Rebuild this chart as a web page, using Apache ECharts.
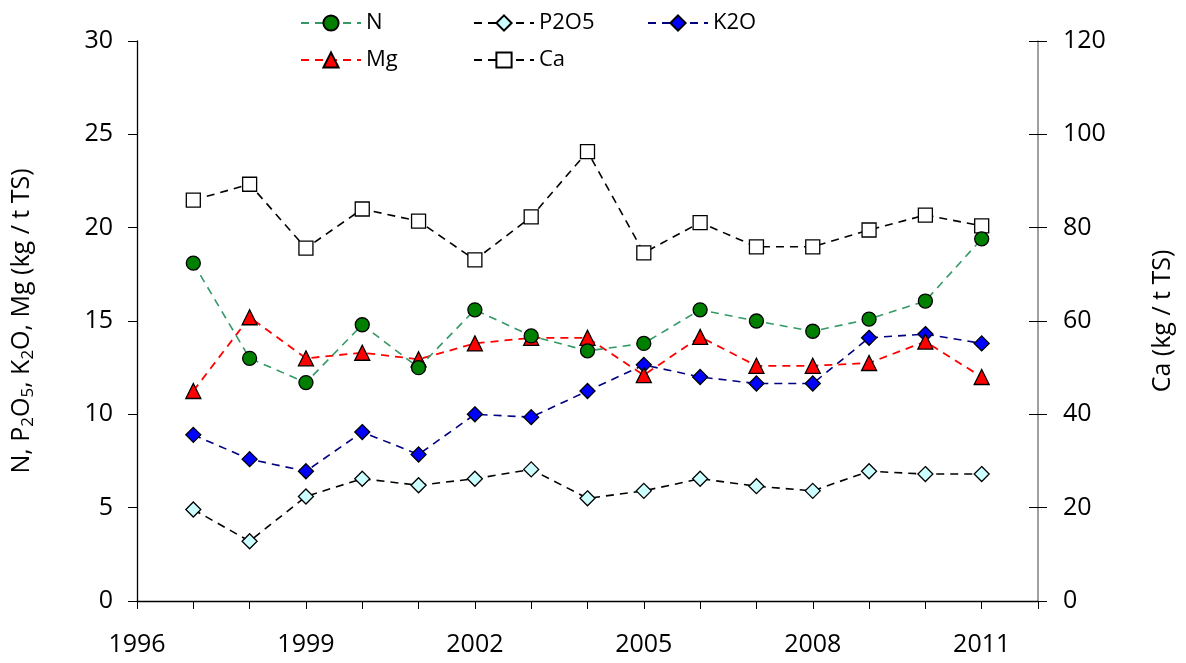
<!DOCTYPE html>
<html>
<head>
    <meta charset="utf-8">
    <title>N, P2O5, K2O, Mg, Ca</title>
    <script src="https://cdn.jsdelivr.net/npm/echarts@6/dist/echarts.min.js"></script>
</head>
<body style="margin:0;">
    <div id="container" style="width:1186px;height:663px;"></div>
    <script type="text/javascript">
        // 数据 (kg / t TS)
        var years = [1997, 1998, 1999, 2000, 2001, 2002, 2003, 2004, 2005, 2006, 2007, 2008, 2009, 2010, 2011];
        var nData    = [18.1, 13.0, 11.7, 14.8, 12.5, 15.6, 14.2, 13.4, 13.8, 15.6, 15.0, 14.45, 15.1, 16.07, 19.4];
        var p2o5Data = [4.9, 3.2, 5.6, 6.55, 6.2, 6.55, 7.05, 5.5, 5.9, 6.55, 6.15, 5.9, 6.95, 6.8, 6.8];
        var k2oData  = [8.9, 7.6, 6.95, 9.05, 7.85, 10.0, 9.85, 11.25, 12.65, 12.0, 11.65, 11.65, 14.1, 14.3, 13.8];
        var mgData   = [11.25, 15.2, 13.0, 13.3, 12.95, 13.8, 14.1, 14.1, 12.1, 14.15, 12.6, 12.6, 12.75, 13.9, 12.0];
        var caData   = [85.9, 89.3, 75.6, 84.0, 81.4, 73.1, 82.3, 96.3, 74.6, 81.1, 75.9, 75.9, 79.5, 82.7, 80.4];
        var leftTicks = [0, 30, 5];
        var rightTicks = [0, 120, 20];

        function pairs(vals) {
            return vals.map(function (v, i) { return [years[i], v]; });
        }

        var font = 'Open Sans';
        var myChart = echarts.init(document.getElementById('container'));

        var legendBase = {
            orient: 'vertical',
            top: 6,
            itemWidth: 60,
            itemHeight: 19,
            itemGap: 13,
            textStyle: { fontFamily: font, fontSize: 22, lineHeight: 24, color: '#000' }
        };

        function lineSeries(name, data, yIdx, lineColor, lineWidth, symbol, size, fill) {
            return {
                name: name,
                type: 'line',
                yAxisIndex: yIdx,
                data: pairs(data),
                symbol: symbol,
                symbolSize: size,
                showSymbol: true,
                lineStyle: { color: lineColor, width: lineWidth, type: [8, 6] },
                itemStyle: { color: fill, borderColor: '#000', borderWidth: 1.3 },
                emphasis: { disabled: true },
                z: 3
            };
        }

        var option = {
            animation: false,
            legend: [
                Object.assign({ left: 295, data: ['N', 'Mg'] }, legendBase),
                Object.assign({ left: 468, data: ['P2O5', 'Ca'] }, legendBase),
                Object.assign({ left: 642, data: ['K2O'] }, legendBase)
            ],
            grid: { left: 137, right: 148, top: 41, bottom: 62, outerBoundsMode: 'none' },
            xAxis: {
                type: 'value',
                min: 1996,
                max: 2012,
                interval: 1,
                axisLine: { lineStyle: { color: '#000', width: 1.3 } },
                axisTick: { length: 8, lineStyle: { color: '#000' } },
                axisLabel: {
                    margin: 31,
                    fontFamily: font,
                    fontSize: 25,
                    color: '#000',
                    formatter: function (v) { return (v - 1996) % 3 === 0 && v < 2012 ? String(v) : ''; }
                },
                splitLine: { show: false }
            },
            yAxis: [
                {
                    type: 'value',
                    min: leftTicks[0], max: leftTicks[1], interval: leftTicks[2],
                    name: '{a|N, P}{s|2}{a|O}{s|5}{a|, K}{s|2}{a|O, Mg (kg / t TS)}',
                    nameLocation: 'middle',
                    nameGap: 100,
                    nameRotate: 90,
                    nameTextStyle: {
                        fontFamily: font, fontSize: 25, color: '#000',
                        rich: {
                            a: { fontFamily: font, fontSize: 25, lineHeight: 30, color: '#000' },
                            s: { fontFamily: font, fontSize: 17, lineHeight: 20, verticalAlign: 'bottom', color: '#000' }
                        }
                    },
                    axisLine: { show: true, lineStyle: { color: '#000', width: 1.3 } },
                    axisTick: { show: true, length: 9, lineStyle: { color: '#000' } },
                    axisLabel: { margin: 24, fontFamily: font, fontSize: 25, color: '#000' },
                    splitLine: { show: false }
                },
                {
                    type: 'value',
                    position: 'right',
                    min: rightTicks[0], max: rightTicks[1], interval: rightTicks[2],
                    name: 'Ca (kg / t TS)',
                    nameLocation: 'middle',
                    nameGap: 112,
                    nameRotate: 90,
                    nameTextStyle: { fontFamily: font, fontSize: 25, color: '#000' },
                    axisLine: { show: true, lineStyle: { color: '#808080', width: 1.5 } },
                    axisTick: { show: true, length: 9, lineStyle: { color: '#000' } },
                    axisLabel: { margin: 25, fontFamily: font, fontSize: 25, color: '#000' },
                    splitLine: { show: false }
                },
                {
                    // 右轴内侧刻度
                    type: 'value',
                    position: 'right',
                    min: rightTicks[0], max: rightTicks[1], interval: rightTicks[2],
                    axisLine: { show: false },
                    axisTick: { show: true, inside: true, length: 9, lineStyle: { color: '#000' } },
                    axisLabel: { show: false },
                    splitLine: { show: false }
                }
            ],
            series: [
                lineSeries('Ca', caData, 1, '#000', 1.6, 'rect', 14, '#fff'),
                lineSeries('P2O5', p2o5Data, 0, '#000', 1.6, 'diamond', 15, '#ccffff'),
                lineSeries('K2O', k2oData, 0, '#000080', 1.6, 'diamond', 15, '#0000ff'),
                lineSeries('Mg', mgData, 0, '#ff0000', 1.8, 'triangle', 15, '#ff0000'),
                lineSeries('N', nData, 0, '#339966', 1.6, 'circle', 14, '#008000')
            ]
        };

        myChart.setOption(option);
    </script>
</body>
</html>
